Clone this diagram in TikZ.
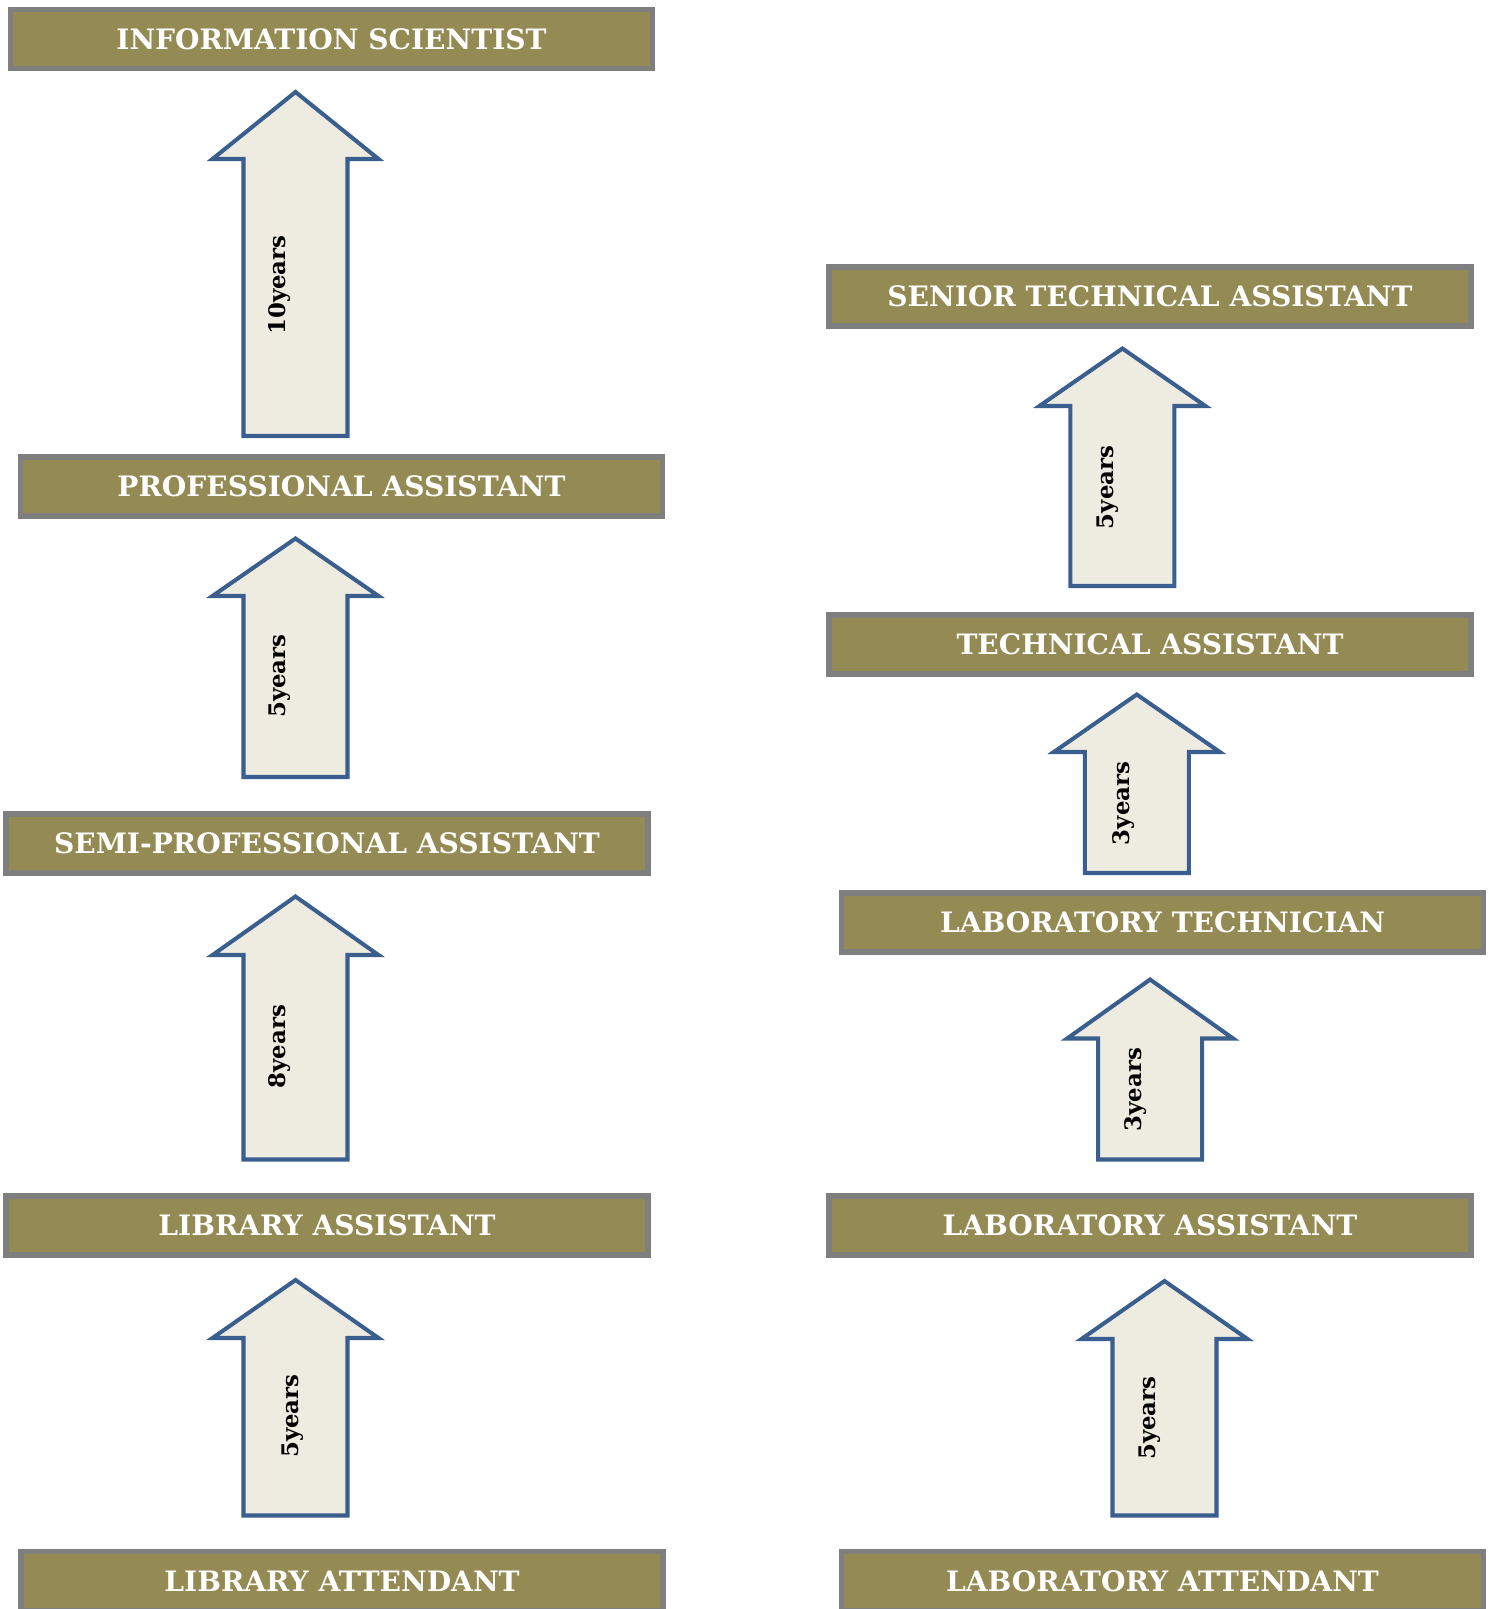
\documentclass[tikz,border=0pt]{standalone}
\usepackage{fontspec}
\setmainfont{DejaVu Serif}
\definecolor{rankfill}{HTML}{948A54}
\definecolor{rankline}{HTML}{7F7F7F}
\definecolor{arrfill}{HTML}{EEECE1}
\definecolor{arrline}{HTML}{3A5F8E}
\begin{document}
\begin{tikzpicture}[
    x=0.02cm, y=-0.02cm,
    rank/.style={draw=rankline, fill=rankfill, line width=3pt, minimum width=12.84cm, minimum height=1.18cm, inner sep=0pt, text=white, font=\bfseries\fontsize{16}{19}\selectfont},
    uparr/.style={draw=arrline, fill=arrfill, line width=2.3pt, miter limit=10},
    yrs/.style={rotate=90, inner sep=0pt, font=\bfseries\fontsize{13}{15}\selectfont},
]
\useasboundingbox (0,0) rectangle (1496,1609);

% Library side
\node[rank] (infosci) at (331.5,39) {INFORMATION SCIENTIST};
\node[rank] (profasst) at (341.5,486.5) {PROFESSIONAL ASSISTANT};
\node[rank] (semiasst) at (327,843.5) {SEMI-PROFESSIONAL ASSISTANT};
\node[rank] (libasst) at (327,1225.5) {LIBRARY ASSISTANT};
\node[rank] (libatt) at (342,1581) {LIBRARY ATTENDANT};

% Laboratory side
\node[rank] (srtech) at (1150,296.5) {SENIOR TECHNICAL ASSISTANT};
\node[rank] (techasst) at (1150,644.5) {TECHNICAL ASSISTANT};
\node[rank] (labtech) at (1162.5,922.5) {LABORATORY TECHNICIAN};
\node[rank] (labasst) at (1150,1225.5) {LABORATORY ASSISTANT};
\node[rank] (labatt) at (1162.5,1581) {LABORATORY ATTENDANT};

% Promotion arrows
\foreach \cx/\tp/\bs/\bt in {295.5/92/159/436, 295.5/538.5/596/777, 295.5/896.5/955/1159.5, 295.5/1280/1338/1515.5,
    1122.4/348.5/406/586, 1136.8/694.5/752/873, 1150.1/979.5/1038.5/1159.5, 1164.5/1281/1339/1515.5}
  \draw[uparr] (\cx-52,\bt) -- (\cx-52,\bs) -- (\cx-83,\bs) -- (\cx,\tp) -- (\cx+83,\bs) -- (\cx+52,\bs) -- (\cx+52,\bt) -- cycle;

% Years
\node[yrs] (y1) at (280,285) {10years};
\node[yrs] (y2) at (280,676) {5years};
\node[yrs] (y3) at (280,1046.5) {8years};
\node[yrs] (y4) at (292.4,1416) {5years};
\node[yrs] (y5) at (1108,487.4) {5years};
\node[yrs] (y6) at (1123.5,803.4) {3years};
\node[yrs] (y7) at (1135.8,1089.6) {3years};
\node[yrs] (y8) at (1150,1418) {5years};

\end{tikzpicture}
\end{document}
